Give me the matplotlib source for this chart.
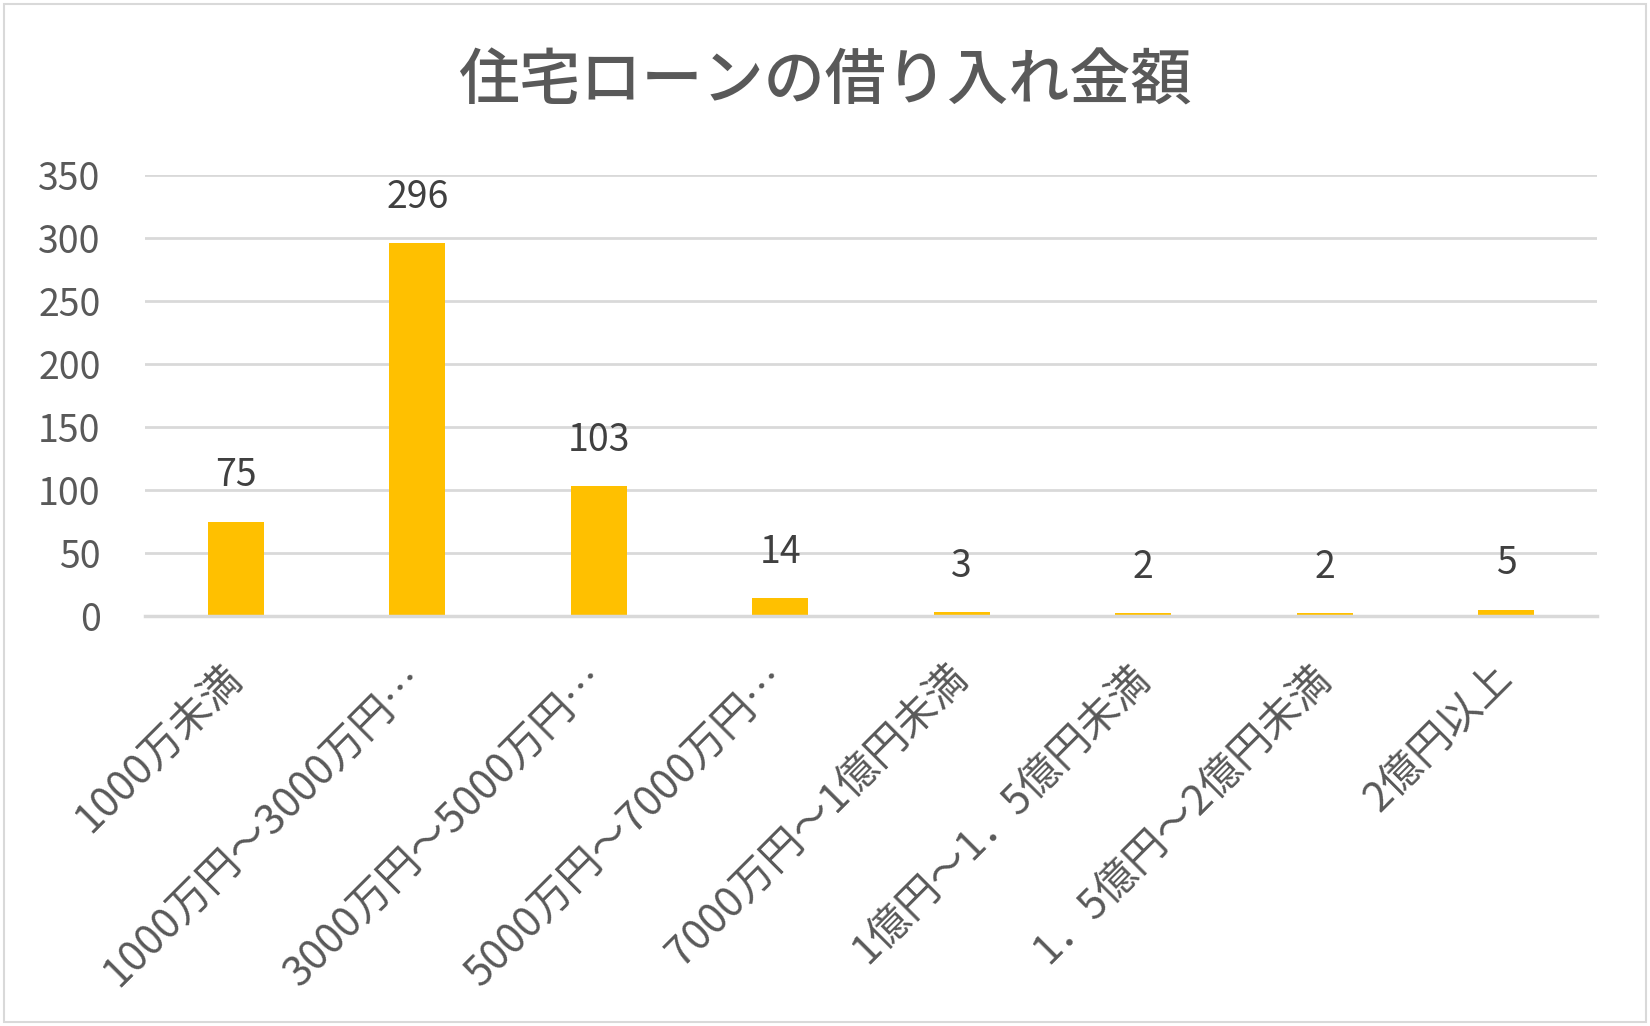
import matplotlib
matplotlib.use("Agg")
import matplotlib.pyplot as plt
from matplotlib.patches import Rectangle

plt.rcParams['font.family'] = ['Noto Sans CJK JP', 'DejaVu Sans']

title = "住宅ローンの借り入れ金額"
categories = ["1000万未満", "1000万円～3000万円…", "3000万円～5000万円…",
              "5000万円～7000万円…", "7000万円～1億円未満", "1億円～1．5億円未満",
              "1．5億円～2億円未満", "2億円以上"]
values = [75, 296, 103, 14, 3, 2, 2, 5]
yticks = [0, 50, 100, 150, 200, 250, 300, 350]

W, H = 1650, 1026
fig = plt.figure(figsize=(W / 100, H / 100), dpi=100)
fig.patch.set_facecolor("white")
fig.patches.append(Rectangle((4 / W, 4 / H), 1 - 8 / W, 1 - 8 / H, transform=fig.transFigure,
                             fill=False, edgecolor="#d9d9d9", linewidth=1.5))

ax = fig.add_axes([145 / W, 1 - 616 / H, (1597 - 145) / W, (616 - 175) / H])
x = list(range(len(categories)))
bars = ax.bar(x, values, width=0.31, color="#FFC000", zorder=3)
ax.set_xlim(-0.5, len(categories) - 0.5)
ax.set_ylim(0, 350)
ax.set_yticks(yticks)
ax.yaxis.grid(True, color="#d9d9d9", linewidth=2, zorder=0)
for s in ["top", "right", "left"]:
    ax.spines[s].set_visible(False)
ax.spines["bottom"].set_color("#d9d9d9")
ax.spines["bottom"].set_linewidth(2.5)
ax.spines["bottom"].set_zorder(4)
ax.tick_params(axis="both", length=0)
ax.tick_params(axis="y", labelsize=27, labelcolor="#595959", pad=32)
ax.set_xticks(x)
ax.set_xticklabels(categories, rotation=45, ha="right", va="center",
                   rotation_mode="anchor", fontsize=30, color="#595959")
ax.tick_params(axis="x", pad=40)

for xi, v in zip(x, values):
    ax.annotate(str(v), (xi, v), xytext=(0, 19), textcoords="offset points",
                ha="center", va="bottom", fontsize=27, color="#404040")

fig.text(0.5, 1 - 82 / H, title, ha="center", va="center", fontsize=44,
         color="#595959", fontweight="medium")

fig.savefig("out.png", dpi=100)
